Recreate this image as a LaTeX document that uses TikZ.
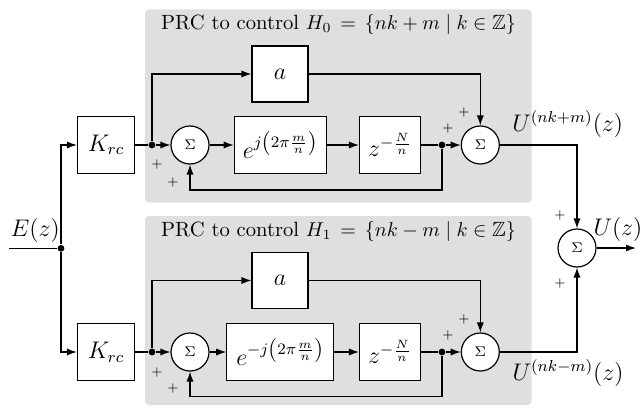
\documentclass[tikz,border=0pt]{standalone}
\usepackage{amsmath,amssymb}
\usetikzlibrary{arrows.meta}
\begin{document}
\begin{tikzpicture}[x=0.5pt,y=-0.5pt,
  line width=0.6pt,
  blockbox/.style={draw, fill=white, inner sep=0pt, minimum height=28.5pt, font=\large},
  sumnode/.style={circle, draw, fill=white, inner sep=0pt, minimum size=19pt, font=\fontsize{7.5}{8}\selectfont},
  jdot/.style={circle, fill=black, inner sep=0pt, minimum size=3.4pt},
  arr/.style={-{Latex[length=5pt,width=3.6pt]}},
  pm/.style={font=\fontsize{6}{7}\selectfont, inner sep=0pt},
  panel/.style={fill=gray!25, draw=none, rounded corners=2pt},
  lbl/.style={font=\large, inner sep=0pt},
  ttl/.style={font=\fontsize{10.3}{12}\selectfont, inner sep=0pt, anchor=base}
]
\useasboundingbox (0,0) rectangle (641,406);
% panels
\fill[panel] (145,9.5) rectangle (531.7,202.7);
\fill[panel] (145,216) rectangle (531.7,405);
\node[ttl] (t1) at (338.5,30) {PRC to control $H_0\,=\,\{nk+m\;|\;k\in\mathbb{Z}\}$};
\node[ttl] (t2) at (338.5,236) {PRC to control $H_1\,=\,\{nk-m\;|\;k\in\mathbb{Z}\}$};

% input
\coordinate (in) at (9,248.3);
\node[jdot] (jin) at (61,248.3) {};
\node[lbl, anchor=base west] (E) at (10,236.7) {$E(z)$};

% top row
\node[blockbox, minimum width=28.5pt] (K1) at (106,145) {$K_{rc}$};
\node[jdot] (j1) at (152,145) {};
\node[sumnode] (s1) at (190,145) {$\Sigma$};
\node[blockbox, minimum width=46pt] (e1) at (280.3,145) {$e^{j\left(2\pi\frac{m}{n}\right)}$};
\node[blockbox, minimum width=30.5pt] (z1) at (390,145) {$z^{-\frac{N}{n}}$};
\node[jdot] (j2) at (442,145) {};
\node[sumnode] (s2) at (480.3,145) {$\Sigma$};
\node[blockbox, minimum width=28pt, minimum height=28pt] (a1) at (280,74) {$a$};
\coordinate (fb1) at (300,190);

% bottom row
\node[blockbox, minimum width=28.5pt] (K2) at (106,352) {$K_{rc}$};
\node[jdot] (j3) at (152,352) {};
\node[sumnode] (s3) at (190,352) {$\Sigma$};
\node[blockbox, minimum width=53.5pt] (e2) at (280.3,352) {$e^{-j\left(2\pi\frac{m}{n}\right)}$};
\node[blockbox, minimum width=30.5pt] (z2) at (390,352) {$z^{-\frac{N}{n}}$};
\node[jdot] (j4) at (442,352) {};
\node[sumnode] (s4) at (480.3,352) {$\Sigma$};
\node[blockbox, minimum width=28pt, minimum height=28pt] (a2) at (280,280.5) {$a$};
\coordinate (fb2) at (300,396.5);

% final sum
\node[sumnode] (sF) at (577,248) {$\Sigma$};
\coordinate (out) at (636,248);

% labels
\node[lbl, anchor=base west] (U1) at (511.7,131.7) {$U^{(nk+m)}(z)$};
\node[lbl, anchor=base west] (U2) at (512,380) {$U^{(nk-m)}(z)$};
\node[lbl, anchor=base west] (U) at (593,235) {$U(z)$};

% plus signs
\node[pm] (p1) at (157,165) {$+$};
\node[pm] (p2) at (173,182) {$+$};
\node[pm] (p3) at (464,113) {$+$};
\node[pm] (p4) at (448,129) {$+$};
\node[pm] (p5) at (157,372) {$+$};
\node[pm] (p6) at (173,388) {$+$};
\node[pm] (p7) at (464,319) {$+$};
\node[pm] (p8) at (448,335) {$+$};
\node[pm] (p9) at (560,216) {$+$};
\node[pm] (p10) at (560,283) {$+$};

% connectors
\draw (in) -- (jin);
\draw[arr] (jin) |- (K1);
\draw[arr] (jin) |- (K2);

\draw (K1) -- (j1);
\draw[arr] (j1) -- (s1);
\draw[arr] (j1) |- (a1);
\draw[arr] (s1) -- (e1);
\draw[arr] (e1) -- (z1);
\draw (z1) -- (j2);
\draw[arr] (j2) -- (s2);
\draw[arr] (a1) -| (s2);
\draw[arr] (j2) |- (fb1) -| (s1);

\draw (K2) -- (j3);
\draw[arr] (j3) -- (s3);
\draw[arr] (j3) |- (a2);
\draw[arr] (s3) -- (e2);
\draw[arr] (e2) -- (z2);
\draw (z2) -- (j4);
\draw[arr] (j4) -- (s4);
\draw[arr] (a2) -| (s4);
\draw[arr] (j4) |- (fb2) -| (s3);

\draw[arr] (s2) -| (sF);
\draw[arr] (s4) -| (sF);
\draw[arr] (sF) -- (out);
\end{tikzpicture}
\end{document}
